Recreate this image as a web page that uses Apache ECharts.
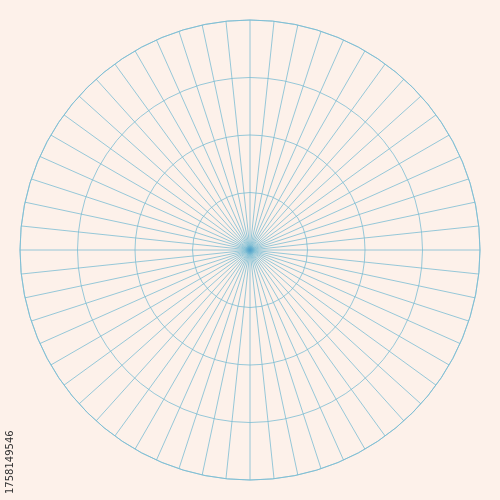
<!DOCTYPE html>
<html><head><meta charset="utf-8">
<script src="https://cdn.jsdelivr.net/npm/echarts@6/dist/echarts.min.js"></script>
<style>html,body{margin:0;padding:0;background:#fdf1ea}#c{width:500px;height:500px}</style>
</head><body><div id="c"></div>
<script>
const ringCount = 4;
const spokeStep = 6;
const watermarkId = '1758149546';
const lineColor = '#7bbcd3';
const chart = echarts.init(document.getElementById('c'));
chart.setOption({
  backgroundColor: '#fdf1ea',
  polar: { center: ['50%', '50%'], radius: 230 },
  angleAxis: {
    type: 'value', min: 0, max: 360, interval: spokeStep, startAngle: 90,
    axisLine: { show: true, lineStyle: { color: lineColor, width: 0.8 } },
    axisTick: { show: false }, axisLabel: { show: false },
    splitLine: { show: true, lineStyle: { color: lineColor, width: 0.8 } }
  },
  radiusAxis: {
    type: 'value', min: 0, max: ringCount, interval: 1,
    axisLine: { show: false }, axisTick: { show: false }, axisLabel: { show: false },
    splitLine: { show: true, lineStyle: { color: lineColor, width: 0.8 } }
  },
  series: [{ type: 'scatter', coordinateSystem: 'polar', data: [[0, 0]], symbolSize: 10,
    itemStyle: { color: new echarts.graphic.RadialGradient(0.5,0.5,0.5,[{offset:0,color:'rgba(60,150,200,0.9)'},{offset:1,color:'rgba(60,150,200,0)'}]) }, silent: true }],
  graphic: [{ type: 'text', x: 10, y: 494, rotation: Math.PI / 2,
    style: { text: watermarkId, font: '10px "DejaVu Sans"', fill: '#333', align: 'left', verticalAlign: 'middle' } }]
});
</script></body></html>
